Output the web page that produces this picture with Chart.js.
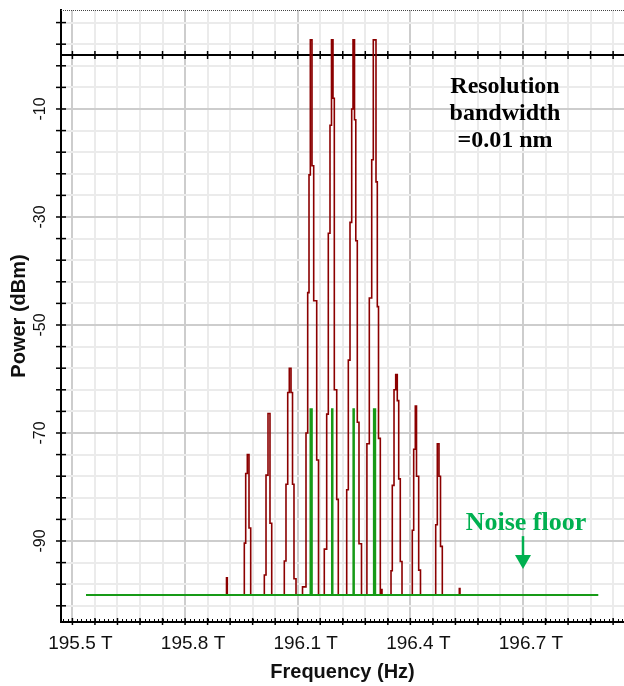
<!DOCTYPE html>
<html>
<head>
<meta charset="utf-8">
<script src="https://cdn.jsdelivr.net/npm/chart.js@4.4.1/dist/chart.umd.min.js"></script>
<style>
  html, body { margin: 0; padding: 0; background: #fff; }
  #wrap { width: 624px; height: 686px; }
</style>
</head>
<body>
<div id="wrap"><canvas id="spectrum" width="624" height="686"></canvas></div>
<script>
// axis ticks (THz / dBm)
const xMajorTicks = [195.5, 195.8, 196.1, 196.4, 196.7];
const xTickLabels = ['195.5 T', '195.8 T', '196.1 T', '196.4 T', '196.7 T'];
const yMajorTicks = [-90, -70, -50, -30, -10];
const yTickLabels = ['-90', '-70', '-50', '-30', '-10'];

// red trace: frequency (THz) / power (dBm)
const redFreq = [
  195.9037,
  195.9104, 195.9125,
  195.9578, 195.9615, 195.9658, 195.9703, 195.9748,
  196.0111, 196.0156, 196.0209, 196.0262, 196.0308,
  196.0643, 196.0688, 196.0734, 196.0776, 196.0822, 196.0862, 196.0901, 196.0955,
  196.1128, 196.1221, 196.1266, 196.1301, 196.1336, 196.1381, 196.1426, 196.1506, 196.1554,
  196.1708, 196.1772, 196.1815, 196.1860, 196.1900, 196.1940, 196.1975, 196.2039, 196.2081,
  196.2305, 196.2348, 196.2393, 196.2438, 196.2473, 196.2513, 196.2547, 196.2587, 196.2632, 196.2699,
  196.2843, 196.2907, 196.2971, 196.3013, 196.3085, 196.3120, 196.3152, 196.3200, 196.3226, 196.3245,
  196.3485, 196.3519, 196.3565, 196.3610, 196.3652, 196.3690, 196.3732, 196.3778,
  196.4052, 196.4089, 196.4132, 196.4164, 196.4222, 196.4270,
  196.4675, 196.4718, 196.4763, 196.4803, 196.4851,
  196.5304, 196.5322,
  196.5376
];
const redPower = [
  -100,
  -96.8, -100,
  -90.4, -77.5, -74, -87.6, -100,
  -96.3, -77.8, -66.4, -86.7, -100,
  -93.7, -79.5, -62.5, -58, -62.5, -79.5, -97, -100,
  -98.5, -70, -44, -22.2, 2.8, -20.5, -45.5, -75, -100,
  -91.5, -66.5, -33, -13, 2.8, -8, -62, -82.3, -100,
  -80.5, -56.5, -31, -10, 2.8, -12, -34.4, -68, -90.5, -100,
  -72, -45, -19.4, 2.8, -23.5, -46.6, -71, -100, -99, -100,
  -95.5, -79.7, -62, -59.2, -64, -78.5, -93.8, -100,
  -88, -73, -65, -78, -95.4, -100,
  -87, -72, -78, -91, -100,
  -98.8, -100,
  -100
];

// green trace: noise floor with the four carriers
const greenFreq = [195.5362, 196.1341, 196.1376, 196.1913, 196.1927, 196.2483, 196.2497, 196.3029, 196.3064, 196.9005];
const greenPower = [-100, -65.6, -100, -65.6, -100, -65.6, -100, -65.6, -100, -100];

const xMin = 195.4696, xMax = 196.969;
const yMin = -105, yMax = 8.33;
const xGridStep = 0.06, xMinorStep = 0.012, yGridStep = 4;

const xGrid = [];
for (let v = xMajorTicks[0]; v <= xMax; v += xGridStep) xGrid.push(+v.toFixed(4));
const yGrid = [];
for (let v = yMajorTicks[yMajorTicks.length - 1]; v >= yMin; v -= yGridStep) yGrid.unshift(v);
for (let v = yMajorTicks[yMajorTicks.length - 1] + yGridStep; v <= yMax; v += yGridStep) yGrid.push(v);

const isMajorX = v => xMajorTicks.some(m => Math.abs(m - v) < 1e-4);
const isMajorY = v => yMajorTicks.includes(v);

const toPoints = (xs, ys) => xs.map((x, i) => ({ x: x, y: ys[i] }));

// axis decorations: dotted top frame, 0 dBm line, cross ticks, notes
const frameDecor = {
  id: 'frameDecor',
  beforeDatasetsDraw(chart) {
    const { ctx, chartArea: a, scales: { x, y } } = chart;
    const y0 = y.getPixelForValue(0);
    ctx.save();
    ctx.strokeStyle = '#000';
    ctx.lineWidth = 2;
    ctx.beginPath();
    ctx.moveTo(a.left, y0);
    ctx.lineTo(a.right, y0);
    ctx.stroke();
    ctx.lineWidth = 1.5;
    xGrid.forEach(v => {
      const px = x.getPixelForValue(v);
      ctx.beginPath();
      ctx.moveTo(px, y0 - 4);
      ctx.lineTo(px, y0 + 4);
      ctx.stroke();
    });
    ctx.restore();
  },
  afterDraw(chart) {
    const { ctx, chartArea: a, scales: { x, y } } = chart;
    ctx.save();
    // dotted top
    ctx.strokeStyle = '#444';
    ctx.lineWidth = 1;
    ctx.setLineDash([1, 1]);
    ctx.beginPath();
    ctx.moveTo(a.left, a.top + 0.5);
    ctx.lineTo(a.right, a.top + 0.5);
    ctx.stroke();
    ctx.setLineDash([]);

    ctx.strokeStyle = '#000';
    ctx.lineWidth = 1.5;
    // y cross ticks
    yGrid.forEach(v => {
      const py = y.getPixelForValue(v);
      ctx.beginPath();
      ctx.moveTo(a.left - 5, py);
      ctx.lineTo(a.left + 5, py);
      ctx.stroke();
    });
    // x minor ticks
    ctx.lineWidth = 1;
    for (let v = xMajorTicks[0] - 2 * xMinorStep; v <= xMax; v += xMinorStep) {
      const px = Math.round(x.getPixelForValue(v)) + 0.5;
      ctx.beginPath();
      ctx.moveTo(px, a.bottom);
      ctx.lineTo(px, a.bottom - 3);
      ctx.stroke();
    }
    ctx.lineWidth = 1.5;
    xGrid.forEach(v => {
      const px = x.getPixelForValue(v);
      ctx.beginPath();
      ctx.moveTo(px, a.bottom - 4);
      ctx.lineTo(px, a.bottom + 3);
      ctx.stroke();
    });

    // annotations
    ctx.fillStyle = '#000';
    ctx.textAlign = 'center';
    ctx.textBaseline = 'alphabetic';
    ctx.font = 'bold 24px "Liberation Serif", "Times New Roman", serif';
    const ax = x.getPixelForValue(196.652);
    ctx.fillText('Resolution', ax, y.getPixelForValue(-7.0));
    ctx.fillText('bandwidth', ax, y.getPixelForValue(-12.0));
    ctx.fillText('=0.01 nm', ax, y.getPixelForValue(-17.0));

    const green = '#00b050';
    ctx.fillStyle = green;
    ctx.font = 'bold 26px "Liberation Serif", "Times New Roman", serif';
    ctx.fillText('Noise floor', x.getPixelForValue(196.708), y.getPixelForValue(-88));
    const arrX = x.getPixelForValue(196.7);
    const t1 = y.getPixelForValue(-89.1), t2 = y.getPixelForValue(-92.6), t3 = y.getPixelForValue(-95.2);
    ctx.strokeStyle = green;
    ctx.lineWidth = 2.5;
    ctx.beginPath();
    ctx.moveTo(arrX, t1);
    ctx.lineTo(arrX, t2);
    ctx.stroke();
    ctx.beginPath();
    ctx.moveTo(arrX - 8, t2);
    ctx.lineTo(arrX + 8, t2);
    ctx.lineTo(arrX, t3);
    ctx.closePath();
    ctx.fill();
    ctx.restore();
  }
};

new Chart(document.getElementById('spectrum').getContext('2d'), {
  type: 'line',
  data: {
    datasets: [
      {
        label: 'carriers',
        data: toPoints(greenFreq, greenPower),
        borderColor: '#179a17',
        borderWidth: 2,
        stepped: true,
        pointRadius: 0,
        fill: false
      },
      {
        label: 'spectrum',
        data: toPoints(redFreq, redPower),
        borderColor: '#8b0000',
        borderWidth: 1.6,
        stepped: true,
        pointRadius: 0,
        fill: false
      }
    ]
  },
  options: {
    responsive: false,
    animation: false,
    events: [],
    layout: { padding: { top: 10, left: 0, right: 0, bottom: 0 } },
    plugins: { legend: { display: false }, tooltip: { enabled: false } },
    scales: {
      x: {
        type: 'linear',
        min: xMin,
        max: xMax,
        afterBuildTicks: s => { s.ticks = xGrid.map(v => ({ value: v })); },
        afterFit: s => { s.height = 64; s.paddingLeft = 0; s.paddingRight = 0; },
        border: { color: '#000', width: 2 },
        grid: {
          drawTicks: false,
          lineWidth: 2,
          color: c => isMajorX(c.tick.value) ? '#cdcdcd' : '#ebebeb'
        },
        ticks: {
          autoSkip: false,
          maxRotation: 0,
          padding: 10,
          labelOffset: 8,
          color: '#111',
          font: { family: '"Liberation Sans", Arial, sans-serif', size: 19 },
          callback: v => {
            const i = xMajorTicks.findIndex(m => Math.abs(m - v) < 1e-4);
            return i >= 0 ? xTickLabels[i] : '';
          }
        },
        title: {
          display: true,
          text: 'Frequency (Hz)',
          color: '#111',
          font: { family: '"Liberation Sans", Arial, sans-serif', size: 20, weight: 'bold' },
          padding: { top: 0, bottom: 1.5 }
        }
      },
      y: {
        type: 'linear',
        min: yMin,
        max: yMax,
        afterBuildTicks: s => { s.ticks = yGrid.map(v => ({ value: v })); },
        afterFit: s => { s.width = 61; s.paddingTop = 0; s.paddingBottom = 0; },
        border: { color: '#000', width: 2 },
        grid: {
          drawTicks: false,
          lineWidth: 2,
          color: c => isMajorY(c.tick.value) ? '#cdcdcd' : '#ebebeb'
        },
        ticks: {
          autoSkip: false,
          minRotation: 90,
          maxRotation: 90,
          crossAlign: 'center',
          padding: 8.5,
          color: '#111',
          font: { family: '"Liberation Sans", Arial, sans-serif', size: 16 },
          callback: v => {
            const i = yMajorTicks.indexOf(v);
            return i >= 0 ? yTickLabels[i] : '';
          }
        },
        title: {
          display: true,
          text: 'Power (dBm)',
          color: '#111',
          font: { family: '"Liberation Sans", Arial, sans-serif', size: 20, weight: 'bold' },
          padding: { top: 7, bottom: 0 }
        }
      }
    }
  },
  plugins: [frameDecor]
});
</script>
</body>
</html>
